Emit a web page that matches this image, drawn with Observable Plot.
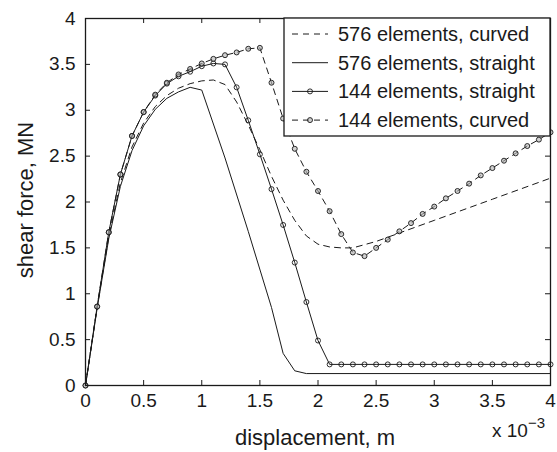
<!DOCTYPE html>
<html><head><meta charset="utf-8">
<script src="https://cdn.jsdelivr.net/npm/d3@7"></script>
<script src="https://cdn.jsdelivr.net/npm/@observablehq/plot@0.6"></script>
<style>body{margin:0;background:#fff;} svg{display:block}</style>
</head><body><div id="chart"></div>
<script>
// ---- data (displacement in units of 1e-3 m, shear force in MN) ----
const xTicks = [0, 0.5, 1, 1.5, 2, 2.5, 3, 3.5, 4];
const yTicks = [0, 0.5, 1, 1.5, 2, 2.5, 3, 3.5, 4];

const x144 = [0,0.1,0.2,0.3,0.4,0.5,0.6,0.7,0.8,0.9,1.0,1.1,1.2,1.3,1.4,1.5,1.6,1.7,1.8,1.9,2.0,
              2.1,2.2,2.3,2.4,2.5,2.6,2.7,2.8,2.9,3.0,3.1,3.2,3.3,3.4,3.5,3.6,3.7,3.8,3.9,4.0];
const straight144 = [0,0.86,1.67,2.30,2.72,2.98,3.16,3.29,3.37,3.42,3.48,3.51,3.50,3.25,2.89,2.52,2.14,1.75,1.34,0.91,0.49,
                     0.23,0.23,0.23,0.23,0.23,0.23,0.23,0.23,0.23,0.23,0.23,0.23,0.23,0.23,0.23,0.23,0.23,0.23,0.23,0.23];
const curved144 = [0,0.86,1.67,2.30,2.72,2.98,3.17,3.30,3.39,3.45,3.51,3.56,3.60,3.63,3.67,3.68,
                   3.30,2.91,2.58,2.33,2.12,1.90,1.65,1.45,1.41,1.50,
                   1.59,1.68,1.77,1.87,1.95,2.04,2.12,2.20,2.29,2.37,2.45,2.53,2.61,2.68,2.76];

const x576c = [0,0.1,0.2,0.3,0.4,0.5,0.6,0.7,0.8,0.9,1.0,1.1,1.2,1.3,1.4,1.5,1.6,1.7,1.8,1.9,2.0,2.1,2.2,2.3,2.5,3.0,3.5,4.0];
const curved576 = [0,0.85,1.62,2.21,2.60,2.86,3.04,3.16,3.24,3.29,3.32,3.33,3.28,3.09,2.84,2.57,2.28,2.02,1.80,1.63,1.54,1.51,1.50,1.50,1.57,1.80,2.03,2.26];

const x576s = [0,0.1,0.2,0.3,0.4,0.5,0.6,0.7,0.8,0.9,1.0,1.2,1.4,1.6,1.7,1.8,1.9,4.0];
const straight576 = [0,0.84,1.60,2.17,2.56,2.83,3.01,3.13,3.20,3.25,3.22,2.48,1.68,0.85,0.35,0.16,0.13,0.13];

const seriesNames = ["576 elements, curved", "576 elements, straight", "144 elements, straight", "144 elements, curved"];

// ---- build tables ----
const toRows = (xs, ys) => xs.map((x, i) => ({x, y: ys[i]}));
const s576c = toRows(x576c, curved576);
const s576s = toRows(x576s, straight576);
const s144s = toRows(x144, straight144);
const s144c = toRows(x144, curved144);

const W = 557, H = 452, mL = 85, mR = 7, mT = 18, mB = 67;
const innerW = W - mL - mR, innerH = H - mT - mB;
const ink = "#1a1a1a";
const markFill = "#b0b0b0";
const font = "'Liberation Sans', Arial, Helvetica, sans-serif";
const dash = "6,5";

const svg = Plot.plot({
  width: W, height: H,
  marginLeft: mL, marginRight: mR, marginTop: mT, marginBottom: mB,
  x: {domain: [0, 4]},
  y: {domain: [0, 4]},
  style: {fontFamily: font, fontSize: "19px", color: ink, background: "white"},
  marks: [
    Plot.line(s576c, {x: "x", y: "y", stroke: ink, strokeWidth: 1, strokeDasharray: dash}),
    Plot.line(s576s, {x: "x", y: "y", stroke: ink, strokeWidth: 1}),
    Plot.line(s144s, {x: "x", y: "y", stroke: ink, strokeWidth: 1}),
    Plot.dot(s144s, {x: "x", y: "y", r: 2.5, stroke: ink, strokeWidth: 0.9, fill: "none"}),
    Plot.line(s144c, {x: "x", y: "y", stroke: ink, strokeWidth: 1, strokeDasharray: dash}),
    Plot.dot(s144c, {x: "x", y: "y", r: 2.5, stroke: ink, strokeWidth: 0.9, fill: markFill, fillOpacity: 0.6}),
    Plot.tickX(xTicks, {x: d => d, stroke: ink, strokeWidth: 1, insetTop: innerH - 5}),
    Plot.tickX(xTicks, {x: d => d, stroke: ink, strokeWidth: 1, insetBottom: innerH - 5}),
    Plot.tickY(yTicks, {y: d => d, stroke: ink, strokeWidth: 1, insetRight: innerW - 5}),
    Plot.tickY(yTicks, {y: d => d, stroke: ink, strokeWidth: 1, insetLeft: innerW - 5}),
    Plot.axisX(xTicks, {tickSize: 0, tickPadding: 8, tickFormat: d => String(d), label: null, fontSize: 19}),
    Plot.axisY(yTicks, {tickSize: 0, tickPadding: 10, tickFormat: d => String(d), label: null, fontSize: 19}),
    Plot.frame({stroke: ink, strokeWidth: 1.3})
  ]
});
document.getElementById("chart").appendChild(svg);

// ---- axis titles & exponent ----
const root = d3.select(svg);
const g = root.append("g").attr("font-family", font).attr("fill", ink);
g.append("text").attr("x", 315).attr("y", 445).attr("text-anchor", "middle")
  .attr("font-size", 22).text("displacement, m");
g.append("text").attr("transform", `translate(33,200) rotate(-90)`)
  .attr("text-anchor", "middle").attr("font-size", 22).text("shear force, MN");
const ex = g.append("text").attr("x", 492).attr("y", 437).attr("font-size", 19).attr("text-anchor", "start");
ex.append("tspan").text("x 10");
ex.append("tspan").attr("dy", -9).attr("font-size", 15).text("−3");

// ---- legend ----
const lg = root.append("g").attr("font-family", font);
const lx = 284, ly = mT, lw = W - mR - lx, lh = 118;
lg.append("rect").attr("x", lx).attr("y", ly).attr("width", lw).attr("height", lh)
  .attr("fill", "white").attr("stroke", ink).attr("stroke-width", 1.3);
const styles = [
  {dash: dash, marker: null},
  {dash: null, marker: null},
  {dash: null, marker: "none"},
  {dash: dash, marker: markFill}
];
seriesNames.forEach((name, i) => {
  const cy = ly + 16 + i * 28.7;
  const st = styles[i];
  const ln = lg.append("line").attr("x1", lx + 8).attr("x2", lx + 44).attr("y1", cy).attr("y2", cy)
    .attr("stroke", ink).attr("stroke-width", 1);
  if (st.dash) ln.attr("stroke-dasharray", st.dash);
  if (st.marker) lg.append("circle").attr("cx", lx + 26).attr("cy", cy).attr("r", 2.5)
    .attr("fill", st.marker).attr("fill-opacity", st.marker === "none" ? 1 : 0.6)
    .attr("stroke", ink).attr("stroke-width", 0.9);
  lg.append("text").attr("x", lx + 54).attr("y", cy).attr("dy", "0.35em").attr("text-anchor", "start")
    .attr("font-size", 20).attr("fill", ink).text(name);
});
</script>
</body></html>
